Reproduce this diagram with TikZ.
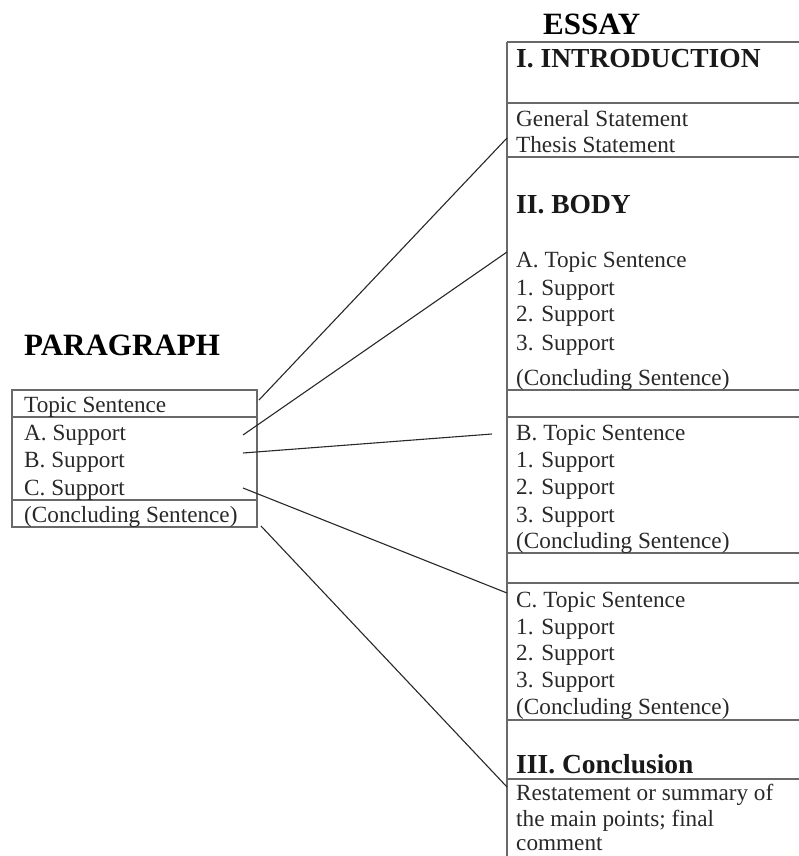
\documentclass[tikz,border=0pt]{standalone}
\usepackage{fontspec}
\setmainfont{Liberation Serif}
\usetikzlibrary{positioning}
\definecolor{rulegray}{RGB}{105,105,105}
\definecolor{inkgray}{RGB}{40,40,40}

\begin{document}
\begin{tikzpicture}[x=1pt, y=-1pt,
    rule/.style={draw=rulegray, line width=1.6pt},
    link/.style={draw=inkgray, line width=1.1pt},
    heading/.style={font=\fontsize{31}{34}\selectfont\bfseries, anchor=base west, inner sep=0pt, text=black},
    subhead/.style={font=\fontsize{27.5}{30}\selectfont\bfseries, anchor=base west, inner sep=0pt, text=black!90},
    entry/.style={font=\fontsize{23.2}{27}\selectfont, anchor=base west, inner sep=0pt, text=inkgray}]
  \useasboundingbox (0,0) rectangle (799,856);

  % paragraph side
  \node[heading] (parhead) at (24,355) {PARAGRAPH};
  \draw[rule] (12,390) rectangle (257,527);
  \draw[rule] (12,417) -- (257,417);
  \draw[rule] (12,500) -- (257,500);
  \node[entry] (ptopic) at (24,412) {Topic Sentence};
  \node[entry] (psupa) at (24,440) {A. Support};
  \node[entry] (psupb) at (24,467) {B. Support};
  \node[entry] (psupc) at (24,495) {C. Support};
  \node[entry] (pconc) at (24,522) {(Concluding Sentence)};

  % essay side
  \node[heading] (esshead) at (543,35) {ESSAY};
  \draw[rule] (507,42) -- (507,858);
  \foreach \y in {42,103,157,390,417,553,583,720,779}
    \draw[rule] (507,\y) -- (800,\y);
  \node[subhead] (intro) at (516,68) {I. INTRODUCTION};
  \node[entry] (general) at (516,126) {General Statement};
  \node[entry] (thesis) at (516,153) {Thesis Statement};
  \node[subhead] (body) at (516,213) {II. BODY};

  \node[entry] (topa) at (516,267) {A. Topic Sentence};
  \node[entry] at (516,295) {1. Support};
  \node[entry] at (516,321) {2. Support};
  \node[entry] at (516,350) {3. Support};
  \node[entry] (conca) at (516,385) {(Concluding Sentence)};

  \node[entry] (topb) at (516,440) {B. Topic Sentence};
  \node[entry] at (516,467) {1. Support};
  \node[entry] at (516,494) {2. Support};
  \node[entry] at (516,522) {3. Support};
  \node[entry] (concb) at (516,548) {(Concluding Sentence)};

  \node[entry] (topc) at (516,607) {C. Topic Sentence};
  \node[entry] at (516,634) {1. Support};
  \node[entry] at (516,660) {2. Support};
  \node[entry] at (516,687) {3. Support};
  \node[entry] (concc) at (516,714) {(Concluding Sentence)};

  \node[subhead] (concl) at (516,773) {III. Conclusion};
  \node[entry] (resta) at (516,800) {Restatement or summary of};
  \node[entry] (restb) at (516,826) {the main points; final};
  \node[entry] (restc) at (516,850) {comment};

  % connector ends
  \coordinate (pa) at (259,400);
  \coordinate (pb) at (243,435);
  \coordinate (pc) at (243,453);
  \coordinate (pd) at (243,488);
  \coordinate (pe) at (261,526);
  \coordinate (ea) at (507,138);
  \coordinate (eb) at (507,252);
  \coordinate (ec) at (492,434);
  \coordinate (ed) at (507,593);
  \coordinate (ee) at (507,787);
  \draw[link] (pa) -- (ea);
  \draw[link] (pb) -- (eb);
  \draw[link] (pc) -- (ec);
  \draw[link] (pd) -- (ed);
  \draw[link] (pe) -- (ee);
\end{tikzpicture}
\end{document}
